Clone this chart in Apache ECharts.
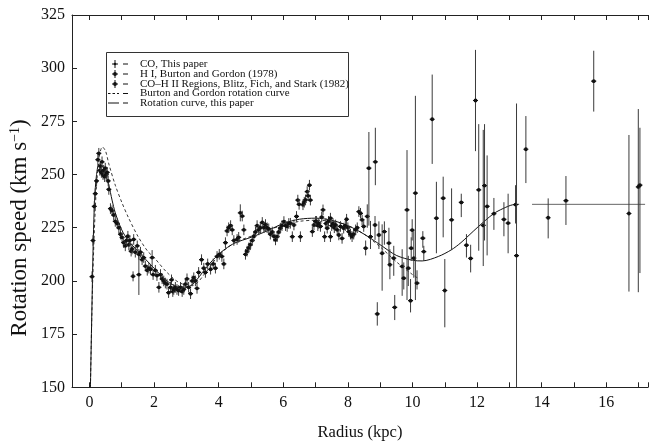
<!DOCTYPE html>
<html><head><meta charset="utf-8">
<script src="https://cdn.jsdelivr.net/npm/echarts@6.0.0/dist/echarts.min.js"></script>
<style>html,body{margin:0;padding:0;background:#fff}#c{width:649px;height:445px}</style>
</head><body><div id="c"></div>
<script>
// CO, this paper (small error bars)
const coR = [0.08,0.11,0.15,0.18,0.22,0.26,0.29,0.32,0.34,0.37,0.39,0.42,0.44,0.47,0.49,0.52,0.55,0.58,0.6,0.65,
  0.7,0.75,0.8,0.86,0.91,0.96,1.01,1.06,1.11,1.15,1.19,1.22,1.25,1.29,1.32,1.37,1.42,1.48,1.53,1.58,
  1.63,1.68,1.73,1.79,1.84,1.89,1.97,2.04,2.09,2.15,2.2,2.25,2.3,2.35,2.4,2.45,2.51,2.54,2.58,2.61,
  2.66,2.71,2.76,2.82,2.87,2.92,2.97,3.02,3.07,3.13,3.18,3.23,3.28,3.33,3.38,3.47,3.54,3.59,3.66,3.75,
  3.83,3.9,3.95,4.02,4.1,4.16,4.21,4.26,4.31,4.37,4.42,4.47,4.57,4.62,4.73,4.78,4.83,4.88,4.93,4.98,
  5.04,5.09,5.14,5.19,5.24,5.29,5.35,5.4,5.45,5.5,5.55,5.6,5.66,5.71,5.76,5.81,5.86,5.91,5.96,6.02,
  6.07,6.12,6.17,6.22,6.28,6.33,6.41,6.45,6.49,6.53,6.61,6.65,6.69,6.74,6.77,6.81,6.84,6.9,6.95,7.0,
  7.03,7.07,7.1,7.15,7.19,7.23,7.28,7.32,7.36,7.4,7.46,7.46,7.5,7.54,7.58,7.62,7.67,7.72,7.77,7.82,
  7.87,7.92,7.96,8.0,8.03,8.08,8.13,8.18,8.24,8.29,8.34,8.39,8.44,8.49];
const coV = [202,219,235,241,247,257,260,252,254,251,256,250,252,249,253,250,251,247,243,234,
  233,231,228,227,225,222,220.5,218,216.5,219,221,217,219,214,215,219.5,213.5,216.5,212.5,213.5,
  210,211,207,205,206,205.5,203,205,202.5,197,203,201,200,199,198.5,194.5,197,200.5,195,196,
  197,196,195.5,197,195,196,198.5,201,197,194,200,201.5,200,196.5,204,210,206,204,208,205.5,
  208,206,211.5,212.5,211.5,208,218,223.5,225,226,224,219,219.5,220.5,230.5,224,212.5,214,215.5,217,
  219,221,223,226,224,225,227.5,225,226.5,225,224.5,222,223,221,219.3,220.8,223,224.8,226,227.9,
  226,225.6,227,227.1,220.8,226.3,230.3,238,236,220.8,235.8,237,238.1,242,240,245,238,223.2,226.3,228,
  228,226,227,225.6,230,233.4,220.8,227,224.8,228,229.5,220.8,226,227,225,226.3,224,221.6,225.6,220,
  224.8,226,229,225,223.2,222,220.8,222,224,225,232.6,231.8,228.7,225.6];
const coErr = 2.5;

// H I (Burton & Gordon 1978) and CO-H II regions (Blitz, Fich & Stark 1982): points with larger bars
const wideR  = [1.35,1.53,1.94,4.67,8.55,8.6,8.65,8.7,8.84,8.85,8.91,8.96,9.06,9.13,9.27,9.3,9.42,9.45,9.68,9.73,
  9.83,9.87,9.94,9.96,9.99,10.04,10.09,10.14,10.32,10.35,10.61,10.74,10.95,11.0,11.21,11.51,11.67,11.8,11.95,12.05,
  12.19,12.23,12.31,12.52,12.83,12.96,13.19,13.22,13.51,14.2,14.75,15.61,16.7,16.99,17.04];
const wideV  = [202.2,203,211,232,215.4,230.3,253,220.8,226.3,256,184.5,221.6,213,223.2,217.8,207.6,210.7,187.6,206.8,201.3,
  233.4,206,190.7,215.4,223.9,210.7,241.3,199,220.1,213.8,276,229.5,238.9,195.5,228.7,236.9,216.8,210.6,284.8,242.8,
  226.1,244.8,235,231.6,228.9,227.2,235.9,211.9,261.9,229.7,237.7,293.9,231.7,244.2,245];
const wideLo = [199.8,193.4,205,228,212,225,226,215,219.3,245,179,215,195.4,217,208,200.8,202.4,181.6,193,196,
  191,197.6,185.2,209.5,219,201.5,191,196,215.6,209.5,255,213,220.5,178.2,214.5,230,211,204,261,214.2,
  207,219,212,224,221,213,227,140,246,220,226.3,279.6,195,194.7,203.7];
const wideHi = [204.5,212.2,214.5,236,219,236,270,228.2,230.5,272,190,228,226.6,228,225,214.9,216.5,193.4,214.9,208.7,
  261.5,211.8,200.9,220.5,229,223.4,287,205,223.4,216.5,297,246.6,249,210.3,243.5,241,222,217,308.6,273.7,
  271,273.7,259,239,237,241,245,283.4,277.5,238.8,249.3,308.2,268.6,280.8,272];

// Rotation curve, this paper
const curveR = [0.03,0.08,0.12,0.16,0.22,0.3,0.4,0.5,0.6,0.7,0.8,1.0,1.2,1.5,2.0,2.4,2.8,3.1,3.2,3.4,
  3.6,3.8,4.0,4.2,4.5,5.0,5.5,6.0,6.5,7.0,7.5,8.0,8.5,9.0,9.5,10.0,10.3,10.8,11.2,11.5,
  12.0,12.5,12.8,13.1,13.3];
const curveV = [150,190,220,238,250,255,254,250,245,238,232,224,219,214,206,200,197,197.5,198.5,202,
  206,209.5,212.5,215,217.8,220.5,223.5,227,229,229.5,228.5,226,222,217,212,209.7,209.4,211.5,214.6,218,
  225,231.5,234,235.8,236];
// Burton and Gordon rotation curve
const bgR = [0.03,0.1,0.2,0.3,0.4,0.5,0.6,0.8,1.0,1.2,1.5,1.8,2.0,2.4,2.8,3.2,3.6,4.0,4.5,5.0,
  5.5,6.0,6.5,7.0,7.5,8.0,8.5,9.0,9.5,10.0,10.2];
const bgV = [150,200,240,258,263,261,255,245,237,230,221,214,211,204,199,198,204,212,218,221,
  224,226,228,228.5,228,226,222,216,209,203,201];
// flat extension of rotation curve
const flatR = [13.7,17.2];
const flatV = [236,236];

const FONT = 'Liberation Serif';
const chart = echarts.init(document.getElementById('c'), null, {renderer:'canvas'});

function zip(a,b){return a.map((v,i)=>[v,b[i]]);}
const coData = coR.map((r,i)=>[r,coV[i],coV[i]-coErr,coV[i]+coErr]);
const wideData = wideR.map((r,i)=>[r,wideV[i],wideLo[i],wideHi[i]]);

function renderErr(params, api){
  const x=api.value(0), y=api.value(1), lo=api.value(2), hi=api.value(3);
  const p=api.coord([x,y]), pl=api.coord([x,lo]), ph=api.coord([x,hi]);
  return {type:'group', children:[
    {type:'line', shape:{x1:p[0],y1:pl[1],x2:p[0],y2:ph[1]}, style:{stroke:'#3a3a3a',lineWidth:1}},
    {type:'line', shape:{x1:p[0]-2.5,y1:p[1],x2:p[0]+2.5,y2:p[1]}, style:{stroke:'#111',lineWidth:1.2}},
    {type:'circle', shape:{cx:p[0],cy:p[1],r:1.9}, style:{fill:'#111'}}
  ]};
}

const axisCommon = {
  type:'value', min:-0.54, max:17.29, splitNumber:9,
  axisLine:{show:true, onZero:false, lineStyle:{color:'#222',width:1}},
  axisTick:{show:true, inside:true, length:5, lineStyle:{color:'#222'}},
  minorTick:{show:true, splitNumber:2, length:5, lineStyle:{color:'#222'}},
  splitLine:{show:false}, minorSplitLine:{show:false}
};

const legendRows = [64,74,84,93.5,103];
const legendTexts = ['CO, This paper','H I, Burton and Gordon (1978)','CO–H II Regions, Blitz, Fich, and Stark (1982)',
  'Burton and Gordon rotation curve','Rotation curve, this paper'];
const graphics = [
  {type:'rect', shape:{x:106.5,y:52.5,width:242,height:64}, style:{fill:'#fff',stroke:'#333',lineWidth:1}, z:100}
];
legendRows.forEach((y,i)=>{
  if(i<3){
    graphics.push({type:'line', shape:{x1:115,y1:y-4,x2:115,y2:y+4}, style:{stroke:'#111',lineWidth:1}, z:101});
    graphics.push({type:'line', shape:{x1:112,y1:y,x2:118,y2:y}, style:{stroke:'#111',lineWidth:1}, z:101});
    graphics.push({type:'circle', shape:{cx:115,cy:y,r:i===0?1.3:1.9}, style:{fill:'#111'}, z:101});
  } else {
    graphics.push({type:'line', shape:{x1:108,y1:y,x2:119,y2:y}, style:{stroke:'#111',lineWidth:1,lineDash:i===3?[2.5,2]:null}, z:101});
  }
  graphics.push({type:'line', shape:{x1:123,y1:y,x2:128,y2:y}, style:{stroke:'#111',lineWidth:1}, z:101});
  graphics.push({type:'text', x:140, y:y, style:{text:legendTexts[i], font:'11px "Liberation Serif"', fill:'#111', verticalAlign:'middle'}, z:101});
});
graphics.push({type:'text', x:360, y:433, style:{text:'Radius (kpc)', font:'16.5px "Liberation Serif"', fill:'#111', align:'center', verticalAlign:'middle'}});
graphics.push({type:'text', x:20, y:228, rotation:Math.PI/2,
  style:{text:'{a|Rotation speed (km s}{b|−1}{a|)}', align:'center', verticalAlign:'middle', fill:'#111',
    rich:{a:{fontFamily:FONT,fontSize:23,fill:'#111'}, b:{fontFamily:FONT,fontSize:14,fill:'#111',padding:[0,0,10,0]}}}});

chart.setOption({
  animation:false,
  backgroundColor:'#fff',
  grid:{left:72, top:15, right:1, bottom:57.7, show:false, outerBoundsMode:'none', containLabel:false},
  xAxis:[
    Object.assign({}, axisCommon, {position:'bottom',
      axisLabel:{show:true, fontFamily:FONT, fontSize:16, color:'#111', margin:7, showMaxLabel:false, showMinLabel:false}}),
    Object.assign({}, axisCommon, {position:'top', axisLabel:{show:false}})
  ],
  yAxis:[
    {type:'value', min:150, max:325, interval:25, position:'left',
     axisLine:{show:true, onZero:false, lineStyle:{color:'#222'}},
     axisTick:{show:true, inside:true, length:5, lineStyle:{color:'#222'}},
     axisLabel:{fontFamily:FONT, fontSize:16, color:'#111', margin:7},
     splitLine:{show:false}}
  ],
  graphic:graphics,
  series:[
    {type:'line', data:zip(bgR,bgV), showSymbol:false, smooth:0.3, clip:true,
     lineStyle:{color:'#222', width:0.9, type:[3,2.5]}, z:3},
    {type:'line', data:zip(curveR,curveV), showSymbol:false, smooth:0.3, clip:true,
     lineStyle:{color:'#111', width:1}, z:4},
    {type:'line', data:zip(flatR,flatV), showSymbol:false, clip:true,
     lineStyle:{color:'#666', width:1}, z:4},
    {type:'custom', data:wideData, renderItem:renderErr, clip:true, z:5},
    {type:'custom', data:coData, renderItem:renderErr, clip:true, z:6}
  ]
});
</script></body></html>
